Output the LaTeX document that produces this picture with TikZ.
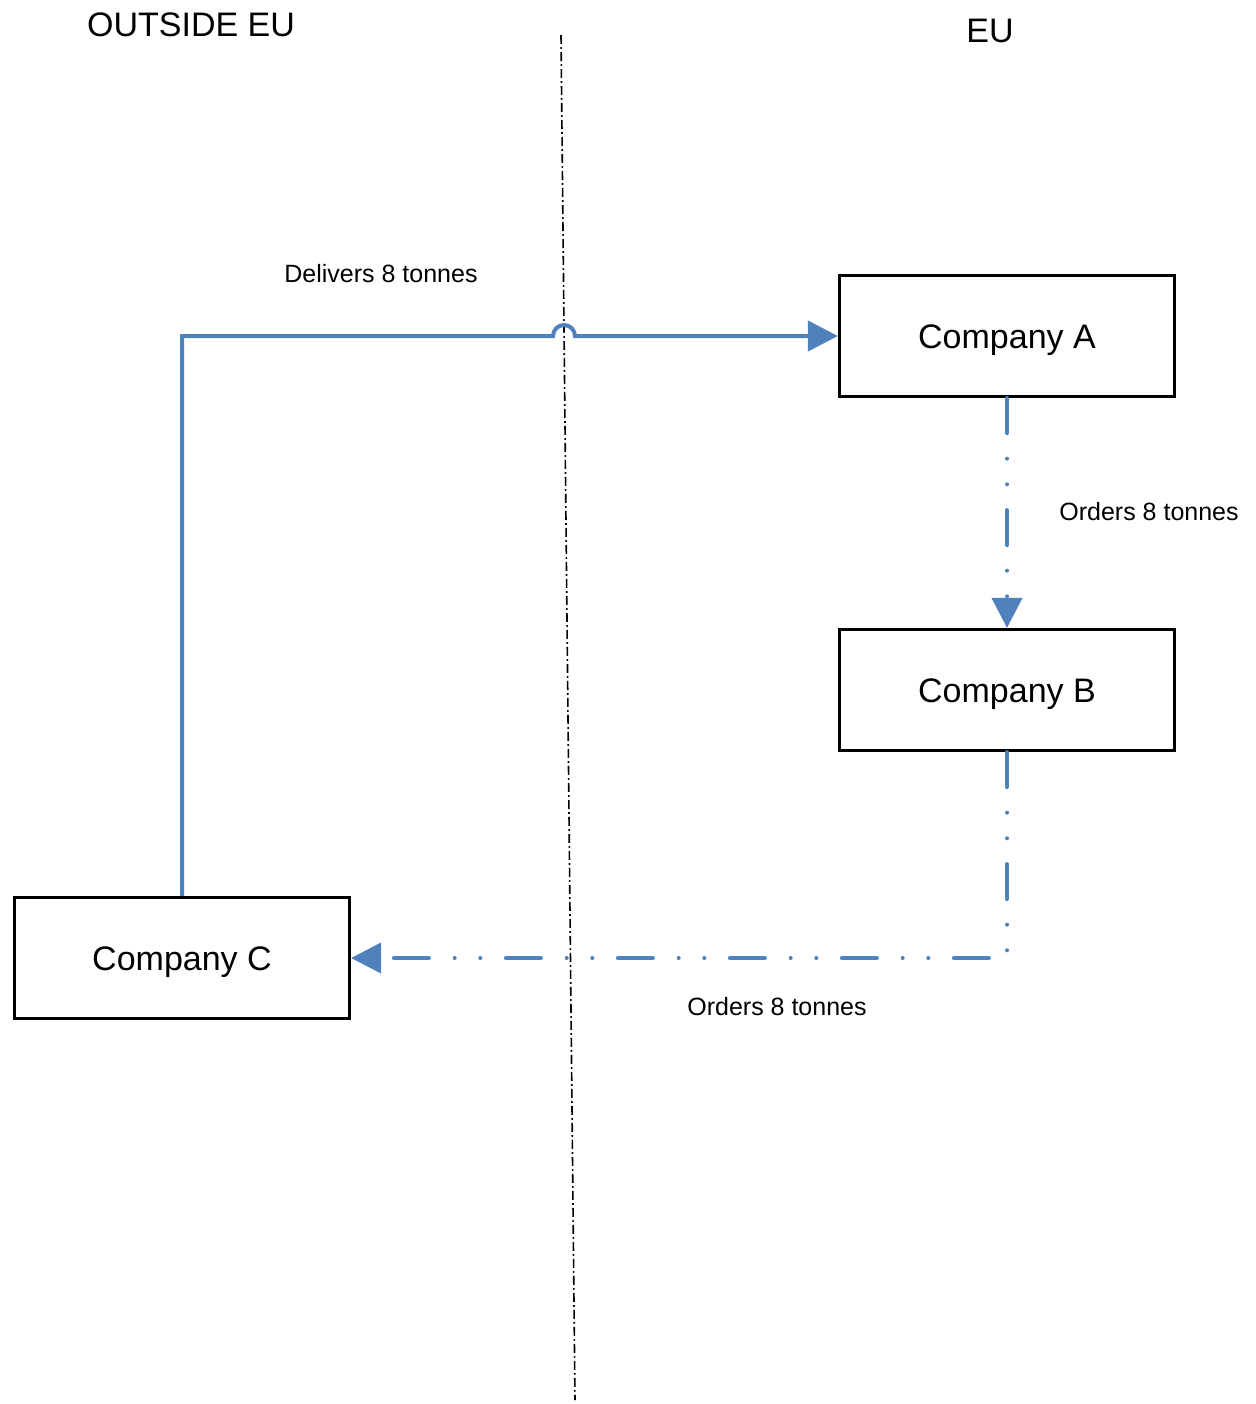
\documentclass[tikz,border=0pt]{standalone}
\usepackage{fontspec}
\setmainfont{Liberation Sans}
\usetikzlibrary{arrows.meta}
\definecolor{flowblue}{RGB}{79,129,189}
\tikzset{
	company/.style={draw,line width=1.6pt,minimum width=167.5pt,minimum height=60.5pt,inner sep=0pt,text height=12.2pt,text depth=0pt,font=\fontsize{17}{20}\selectfont},
	side/.style={font=\fontsize{17}{20}\selectfont},
	flowlabel/.style={font=\fontsize{12.5}{15}\selectfont},
	flow/.style={draw=flowblue,line width=2pt},
	orders/.style={flow,line cap=round,dash pattern=on 17.5pt off 12.8pt on 0pt off 12.8pt on 0pt off 12.9pt},
	tip/.style={-{Triangle[length=15pt,width=15pt,fill=flowblue]}}
}
\begin{document}
\begin{tikzpicture}[x=0.5pt,y=-0.5pt]
		\useasboundingbox (0,0) rectangle (1256,1404);
		\draw [line width=0.8pt,dash pattern=on 4.5pt off 1.6pt on 0.8pt off 1.6pt] (561,35) -- (575,1400);
		\node[side] (outside) at (191,25) {OUTSIDE EU};
		\node[side] (eu) at (990,31) {EU};
		\node[company] (compA) at (1007,336) {Company A};
		\node[company] (compB) at (1007,690) {Company B};
		\node[company] (compC) at (182,958) {Company C};
		\coordinate (hop) at (553,336);
		\draw[flow,tip] (compC.north) |- (hop) arc[start angle=180,end angle=360,radius=11] -- (compA.west);
		\draw[orders,tip] (compA.south) -- (compB.north);
		\draw[orders,tip] (compB.south) |- (compC.east);
		\node[flowlabel] (deliv) at (381,274) {Delivers 8 tonnes};
		\node[flowlabel] (ordAB) at (1149,512) {Orders 8 tonnes};
		\node[flowlabel] (ordBC) at (777,1007) {Orders 8 tonnes};
\end{tikzpicture}
\end{document}
